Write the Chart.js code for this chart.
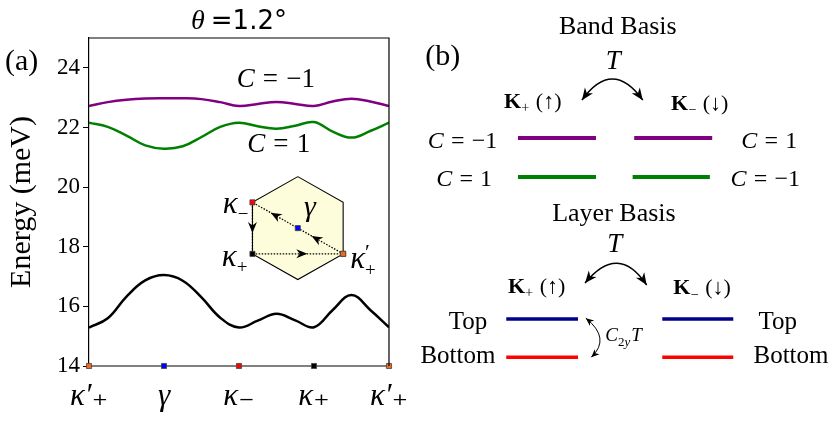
<!DOCTYPE html>
<html>
<head>
<meta charset="utf-8">
<script src="https://cdn.jsdelivr.net/npm/chart.js@4.4.0/dist/chart.umd.min.js"></script>
<style>
  html, body { margin: 0; padding: 0; background: #fff; }
  #wrap { position: relative; width: 830px; height: 428px; }
  #wrap canvas { position: absolute; }
</style>
</head>
<body>
<div id="wrap">
  <canvas id="bandChart" style="left:0;top:0;" width="420" height="428"></canvas>
  <canvas id="bzChart" style="left:200px;top:150px;" width="200" height="150"></canvas>
  <canvas id="basisChart" style="left:420px;top:0;" width="410" height="428"></canvas>
</div>
<script>
// panel (a): bands along the path κ'+ -> γ -> κ- -> κ+ -> κ'+
const kPath = [0, 0.25, 0.5, 0.75, 1, 1.25, 1.5, 1.75, 2, 2.25, 2.5, 2.75, 3, 3.25, 3.5, 3.75, 4];
const kTickPos = [0, 1, 2, 3, 4];
const kTickLabels = ['κ′₊', 'γ', 'κ₋', 'κ₊', 'κ′₊'];
const bandUpper = [22.72, 22.85, 22.93, 22.97, 22.98, 22.98, 22.95, 22.85, 22.72, 22.79, 22.85, 22.79, 22.72, 22.87, 22.96, 22.87, 22.72];
const bandMiddle = [22.16, 22.02, 21.73, 21.40, 21.29, 21.37, 21.68, 22.02, 22.16, 22.04, 21.96, 22.06, 22.18, 21.86, 21.66, 21.88, 22.16];
const bandLower = [15.29, 15.60, 16.33, 16.87, 17.05, 16.86, 16.30, 15.62, 15.29, 15.52, 15.75, 15.53, 15.30, 15.88, 16.38, 15.88, 15.30];
const energyMin = 14;
const energyMax = 25;

// inset: Brillouin zone hexagon and the k-path
const bzHexX = [0, 0.866, 0.866, 0, -0.866, -0.866, 0];
const bzHexY = [1, 0.5, -0.5, -1, -0.5, 0.5, 1];
const bzPathX = [0.866, 0, -0.866, -0.866, 0.866];
const bzPathY = [-0.5, 0, 0.5, -0.5, -0.5];

// panel (b): level diagram (diagram units)
const bandSpanLeft = [0, 1];
const bandSpanRightUpper = [1.49, 2.49];
const bandSpanRightLower = [1.47, 2.46];
const bandLevelY = [1, 0];
const layerSpanLeft = [-0.15, 0.77];
const layerSpanRight = [1.85, 2.76];
const layerLevelY = [-3.64, -4.62];

const markerColors = ['#f26b1d', '#0000ff', '#ff0000', '#000000', '#f26b1d'];
const SERIF = '"Liberation Serif", "DejaVu Serif", serif';
const SANS = '"DejaVu Sans", sans-serif';
function f(size, style) { return (style ? style + ' ' : '') + size + 'px ' + SERIF; }

// draw text made of pieces: [text, font, dy, noAdvance] or a number (gap)
function drawRich(ctx, parts, x, yc, align, size) {
  ctx.save();
  ctx.textBaseline = 'alphabetic';
  ctx.textAlign = 'left';
  ctx.fillStyle = '#000';
  let w = 0;
  for (const p of parts) {
    if (typeof p === 'number') { w += p; continue; }
    if (p[3]) continue;
    ctx.font = p[1];
    w += ctx.measureText(p[0]).width;
  }
  let cx = align === 'center' ? x - w / 2 : align === 'right' ? x - w : x;
  const base = yc + size * 0.34;
  for (const p of parts) {
    if (typeof p === 'number') { cx += p; continue; }
    ctx.font = p[1];
    ctx.fillText(p[0], cx, base + (p[2] || 0));
    if (!p[3]) cx += ctx.measureText(p[0]).width;
  }
  ctx.restore();
}
const cEq = (val, size) => [['C', f(size, 'italic')], size * 0.3, ['=', f(size)], size * 0.3, [val, f(size)]];
const kLab = (sign, arrow, size) => [['K', f(size, 'bold')], ['' + sign, f(size * 0.65), size * 0.22], size * 0.3, ['(' + arrow + ')', f(size)]];

function arrowHead(ctx, px, py, ang, len, half) {
  ctx.save();
  ctx.translate(px, py);
  ctx.rotate(ang);
  ctx.beginPath();
  ctx.moveTo(0, 0);
  ctx.lineTo(-len, -half);
  ctx.lineTo(-len * 0.7, 0);
  ctx.lineTo(-len, half);
  ctx.closePath();
  ctx.fill();
  ctx.restore();
}

// ---------- panel (a) ----------
const bandDecor = {
  id: 'bandDecor',
  afterDraw(chart) {
    const { ctx, chartArea: a, scales: { x, y } } = chart;
    ctx.save();
    ctx.strokeStyle = '#000';
    ctx.lineWidth = 1.2;
    ctx.beginPath();
    ctx.moveTo(a.left, a.top);
    ctx.lineTo(a.right, a.top);
    ctx.lineTo(a.right, y.getPixelForValue(energyMin));
    ctx.stroke();
    ctx.restore();
    drawRich(ctx, [['θ', f(28, 'italic')], 6, ['=1.2°', '26px ' + SANS]], (a.left + a.right) / 2, 20, 'center', 26);
    drawRich(ctx, [['(a)', f(30)]], 5, 60, 'left', 30);
    drawRich(ctx, cEq('−1', 27), x.getPixelForValue(1.97), y.getPixelForValue(23.68), 'left', 27);
    drawRich(ctx, cEq('1', 27), x.getPixelForValue(2.11), y.getPixelForValue(21.47), 'left', 27);
  }
};

const pts = (xs, ys) => xs.map((v, i) => ({ x: v, y: ys[i] }));
const bandLine = (vals, color) => ({
  data: pts(kPath, vals), borderColor: color, borderWidth: 2.5,
  pointRadius: 0, tension: 0.4
});

new Chart(document.getElementById('bandChart'), {
  type: 'line',
  data: {
    datasets: [
      {
        data: kTickPos.map(v => ({ x: v, y: energyMin })),
        borderColor: '#808080', borderWidth: 2, clip: false, tension: 0,
        pointStyle: 'rect', pointRadius: 3.6,
        pointBackgroundColor: markerColors, pointBorderColor: '#444', pointBorderWidth: 0.8
      },
      bandLine(bandUpper, '#800080'),
      bandLine(bandMiddle, '#008000'),
      bandLine(bandLower, '#000000')
    ]
  },
  options: {
    responsive: false, animation: false, devicePixelRatio: 1, events: [],
    layout: { padding: { top: 38, right: 28, left: 0, bottom: 0 } },
    plugins: { legend: { display: false }, tooltip: { enabled: false } },
    scales: {
      x: {
        type: 'linear', min: 0, max: 4,
        afterFit: s => { s.height = 62; },
        grid: { display: false, drawTicks: false },
        border: { display: false },
        afterBuildTicks: s => { s.ticks = kTickPos.map(v => ({ value: v })); },
        ticks: {
          autoSkip: false, maxRotation: 0, padding: 12, color: '#000',
          font: { family: SERIF, size: 31, style: 'italic' },
          callback: v => kTickLabels[kTickPos.indexOf(v)]
        }
      },
      y: {
        min: energyMin, max: energyMax,
        afterFit: s => { s.width = 89; },
        grid: { drawOnChartArea: false, tickLength: 6, color: '#000' },
        border: { color: '#000', width: 1.2 },
        ticks: { stepSize: 2, includeBounds: false, color: '#000', padding: 3, font: { family: SERIF, size: 23 } },
        title: { display: true, text: 'Energy (meV)', color: '#000', font: { family: SERIF, size: 30 }, padding: { top: 4, bottom: 0 } }
      }
    }
  },
  plugins: [bandDecor]
});

// ---------- inset ----------
const bzDecor = {
  id: 'bzDecor',
  beforeDatasetsDraw(chart) {
    const hex = chart.getDatasetMeta(2).data;
    const ctx = chart.ctx;
    ctx.save();
    ctx.fillStyle = '#fdfddc';
    ctx.beginPath();
    hex.forEach((p, i) => i ? ctx.lineTo(p.x, p.y) : ctx.moveTo(p.x, p.y));
    ctx.closePath();
    ctx.fill();
    ctx.restore();
  },
  afterDatasetsDraw(chart) {
    const { ctx, scales: { x, y } } = chart;
    const P = bzPathX.map((v, i) => ({ x: x.getPixelForValue(v), y: y.getPixelForValue(bzPathY[i]) }));
    const where = [0.6, 0.5, 0.5, 0.55];
    ctx.save();
    ctx.fillStyle = '#000';
    for (let i = 0; i < 4; i++) {
      const a = P[i], b = P[i + 1], t = where[i];
      const ang = Math.atan2(b.y - a.y, b.x - a.x);
      arrowHead(ctx, a.x + (b.x - a.x) * t + 5 * Math.cos(ang), a.y + (b.y - a.y) * t + 5 * Math.sin(ang), ang, 11, 4.5);
    }
    ctx.restore();
    drawRich(ctx, [['γ', f(30, 'italic')]], P[1].x + 12, P[1].y - 22, 'center', 30);
    drawRich(ctx, [['κ', f(31, 'italic')], ['−', f(19), 7]], P[2].x - 4, P[2].y, 'right', 30);
    drawRich(ctx, [['κ', f(31, 'italic')], ['+', f(19), 7]], P[3].x - 5, P[3].y + 2, 'right', 30);
    drawRich(ctx, [['κ', f(31, 'italic')], ['′', f(22), -9, true], ['+', f(19), 8]], P[4].x + 7, P[4].y + 4, 'left', 30);
  }
};

new Chart(document.getElementById('bzChart'), {
  type: 'line',
  data: {
    datasets: [
      {
        data: pts(bzPathX, bzPathY), showLine: false,
        pointStyle: 'rect', pointRadius: 3.6,
        pointBackgroundColor: markerColors, pointBorderColor: '#444', pointBorderWidth: 0.8
      },
      { data: pts(bzPathX, bzPathY), borderColor: '#000', borderWidth: 1.3, borderDash: [1.5, 1.5], pointRadius: 0 },
      { data: pts(bzHexX, bzHexY), borderColor: '#000', borderWidth: 1.1, pointRadius: 0 }
    ]
  },
  options: {
    responsive: false, animation: false, devicePixelRatio: 1, events: [],
    layout: { padding: 0 },
    plugins: { legend: { display: false }, tooltip: { enabled: false } },
    scales: {
      x: { type: 'linear', display: false, min: -1.776, max: 1.86 },
      y: { type: 'linear', display: false, min: -1.303, max: 1.424 }
    }
  },
  plugins: [bzDecor]
});

// ---------- panel (b) ----------
function curvedArrow(ctx, p0, pm, p1, len, half) {
  const c = { x: 2 * pm.x - (p0.x + p1.x) / 2, y: 2 * pm.y - (p0.y + p1.y) / 2 };
  ctx.beginPath();
  ctx.moveTo(p0.x, p0.y);
  ctx.quadraticCurveTo(c.x, c.y, p1.x, p1.y);
  ctx.stroke();
  arrowHead(ctx, p0.x, p0.y, Math.atan2(p0.y - c.y, p0.x - c.x), len, half);
  arrowHead(ctx, p1.x, p1.y, Math.atan2(p1.y - c.y, p1.x - c.x), len, half);
}

const basisDecor = {
  id: 'basisDecor',
  afterDraw(chart) {
    const { ctx, scales: { x, y } } = chart;
    const P = (a, b) => ({ x: x.getPixelForValue(a), y: y.getPixelForValue(b) });
    const T = (parts, a, b, align, size) => { const p = P(a, b); drawRich(ctx, parts, p.x, p.y, align, size); };

    T([['(b)', f(30)]], -1.19, 3.13, 'left', 30);
    T([['Band Basis', f(26)]], 1.28, 3.9, 'center', 26);
    T([['T', f(27, 'italic')]], 1.22, 3.0, 'center', 27);
    T(kLab('+', '↑', 22), 0.19, 1.97, 'center', 22);
    T(kLab('−', '↓', 22), 2.33, 1.92, 'center', 22);
    T(cEq('−1', 24), -0.71, 0.95, 'center', 24);
    T(cEq('1', 24), -0.69, -0.03, 'center', 24);
    T(cEq('1', 24), 3.22, 0.95, 'center', 24);
    T(cEq('−1', 24), 3.17, -0.03, 'center', 24);

    T([['Layer Basis', f(26)]], 1.23, -0.9, 'center', 26);
    T([['T', f(27, 'italic')]], 1.24, -1.69, 'center', 27);
    T(kLab('+', '↑', 22), 0.24, -2.77, 'center', 22);
    T(kLab('−', '↓', 22), 2.36, -2.82, 'center', 22);
    T([['Top', f(25)]], -0.64, -3.67, 'center', 25);
    T([['Bottom', f(25)]], -0.77, -4.56, 'center', 25);
    T([['Top', f(25)]], 3.33, -3.67, 'center', 25);
    T([['Bottom', f(25)]], 3.5, -4.56, 'center', 25);
    T([['C', f(19, 'italic')], ['2', f(13), 5], ['y', f(13, 'italic'), 5], 1, ['T', f(19, 'italic')]], 1.12, -4.05, 'left', 19);

    ctx.save();
    ctx.strokeStyle = '#000';
    ctx.fillStyle = '#000';
    ctx.lineWidth = 1.5;
    curvedArrow(ctx, P(0.82, 1.97), P(1.21, 2.51), P(1.60, 1.97), 12, 5);
    curvedArrow(ctx, P(0.86, -2.72), P(1.27, -2.21), P(1.65, -2.77), 12, 5);
    ctx.lineWidth = 1;
    curvedArrow(ctx, P(0.87, -3.62), P(1.05, -4.13), P(0.94, -4.62), 8, 3.5);
    ctx.restore();
  }
};

const level = (span, yv, color, w) => ({
  data: [{ x: span[0], y: yv }, { x: span[1], y: yv }],
  borderColor: color, borderWidth: w, pointRadius: 0
});

new Chart(document.getElementById('basisChart'), {
  type: 'line',
  data: {
    datasets: [
      level(bandSpanLeft, bandLevelY[0], '#800080', 4),
      level(bandSpanLeft, bandLevelY[1], '#008000', 4),
      level(bandSpanRightUpper, bandLevelY[0], '#800080', 4),
      level(bandSpanRightLower, bandLevelY[1], '#008000', 4),
      level(layerSpanLeft, layerLevelY[0], '#00008b', 3.5),
      level(layerSpanLeft, layerLevelY[1], '#ff0000', 3.5),
      level(layerSpanRight, layerLevelY[0], '#00008b', 3.5),
      level(layerSpanRight, layerLevelY[1], '#ff0000', 3.5)
    ]
  },
  options: {
    responsive: false, animation: false, devicePixelRatio: 1, events: [],
    layout: { padding: 0 },
    plugins: { legend: { display: false }, tooltip: { enabled: false } },
    scales: {
      x: { type: 'linear', display: false, min: -1.256, max: 4.0 },
      y: { type: 'linear', display: false, min: -6.436, max: 4.538 }
    }
  },
  plugins: [basisDecor]
});
</script>
</body>
</html>
